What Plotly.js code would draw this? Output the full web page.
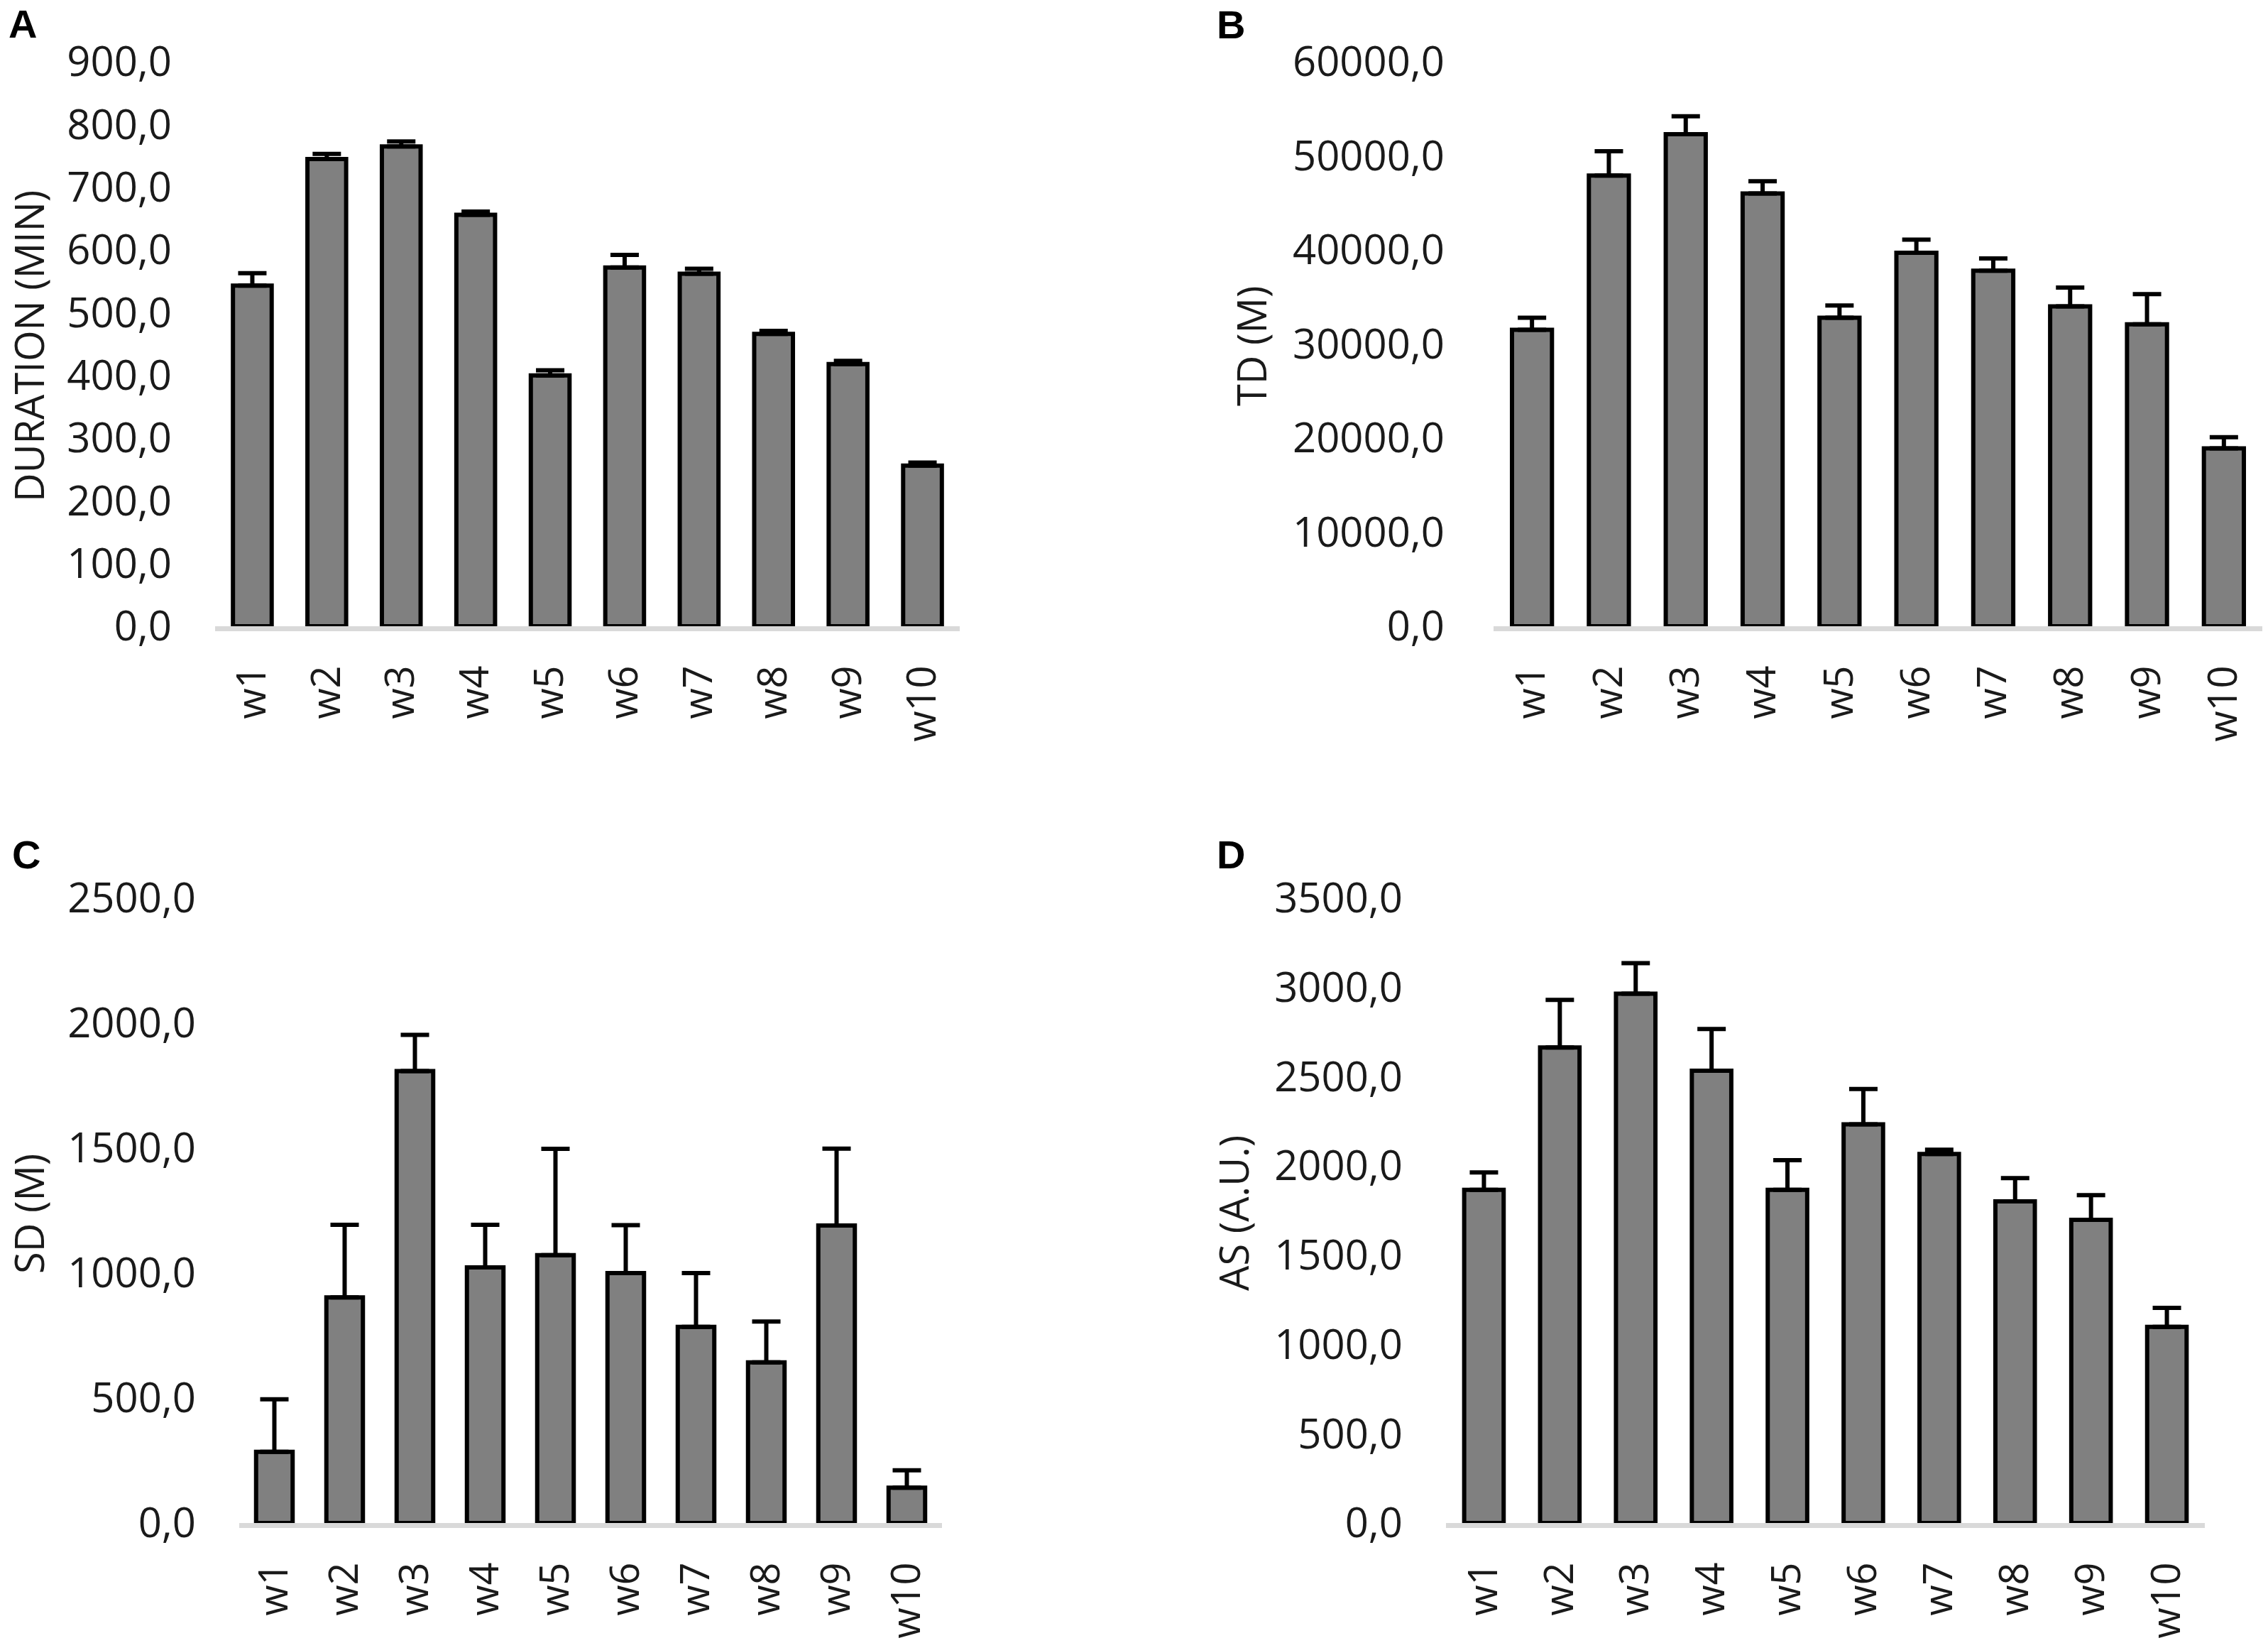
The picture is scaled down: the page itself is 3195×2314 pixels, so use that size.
<!DOCTYPE html>
<html>
<head>
<meta charset="utf-8">
<script src="https://cdn.plot.ly/plotly-3.0.1.min.js"></script>
<style>
  html, body { margin: 0; padding: 0; background: #fff; }
  #chart { width: 3195px; height: 2314px; }
</style>
</head>
<body>
<div id="chart"></div>
<script>
const weeks = ['w1', 'w2', 'w3', 'w4', 'w5', 'w6', 'w7', 'w8', 'w9', 'w10'];

// A: duration (min)
const durationMean = [543, 745, 765, 656, 400, 572, 562, 466, 418, 256];
const durationErr = [20, 8, 8, 5, 8, 20, 8, 5, 5, 5];

// B: total distance (m)
const tdMean = [31500, 47900, 52300, 46000, 32800, 39700, 37800, 34000, 32100, 18900];
const tdErr = [1300, 2600, 1900, 1300, 1300, 1400, 1300, 2000, 3200, 1200];

// C: sprint distance (m)
const sdMean = [285, 903, 1808, 1023, 1072, 1000, 785, 643, 1190, 141];
const sdErr = [210, 290, 145, 170, 425, 192, 215, 163, 308, 70];

// D: AS (A.U.)
const asMean = [1866, 2664, 2965, 2534, 1866, 2233, 2067, 1802, 1698, 1099];
const asErr = [98, 266, 171, 233, 166, 198, 24, 130, 139, 106];

const W = 3195, H = 2314;
const px = v => v / W;
const py = v => 1 - v / H;

function barTrace(y, err, xa, ya) {
  return {
    type: 'bar',
    x: weeks,
    y: y,
    xaxis: xa,
    yaxis: ya,
    marker: { color: '#808080', line: { color: '#000000', width: 6 } },
    error_y: {
      type: 'data',
      symmetric: false,
      array: err,
      arrayminus: err.map(() => 0),
      color: '#000000',
      thickness: 6,
      width: 20
    },
    hoverinfo: 'x+y'
  };
}

const data = [
  barTrace(durationMean, durationErr, 'x', 'y'),
  barTrace(tdMean, tdErr, 'x2', 'y2'),
  barTrace(sdMean, sdErr, 'x3', 'y3'),
  barTrace(asMean, asErr, 'x4', 'y4')
];

const tickFont = { family: 'Open Sans, sans-serif', size: 58, color: '#1a1a1a' };
const xTickFont = { family: 'Open Sans, sans-serif', size: 56, color: '#1a1a1a' };

function xAxis(domain, anchor) {
  return {
    domain: domain,
    anchor: anchor,
    range: [-0.5, 9.5],
    showgrid: false,
    zeroline: false,
    showline: true,
    linecolor: '#d9d9d9',
    linewidth: 7,
    layer: 'below traces',
    ticks: '',
    tickangle: -90,
    ticklabelstandoff: 26,
    tickfont: xTickFont,
    fixedrange: true
  };
}

function yAxis(domain, anchor, max, step, standoff) {
  return {
    domain: domain,
    anchor: anchor,
    range: [0, max],
    dtick: step,
    tick0: 0,
    tickformat: '.1f',
    showgrid: false,
    zeroline: false,
    showline: false,
    ticks: '',
    ticklabelstandoff: standoff,
    tickfont: tickFont,
    fixedrange: true
  };
}

const topRow = [py(882), py(87)];
const bottomRow = [py(2145), py(1265)];

const titleFont = { family: 'Open Sans, sans-serif', size: 56, color: '#1a1a1a' };
const letterFont = { family: 'Liberation Sans, Arial, sans-serif', size: 56, color: '#000000' };

function yTitle(text, x, y) {
  return {
    text: text, xref: 'paper', yref: 'paper', x: px(x), y: py(y),
    xanchor: 'center', yanchor: 'middle', textangle: -90,
    showarrow: false, font: titleFont
  };
}

function letter(text, x, y) {
  return {
    text: '<b>' + text + '</b>', xref: 'paper', yref: 'paper', x: px(x), y: py(y),
    xanchor: 'left', yanchor: 'top', showarrow: false, font: letterFont
  };
}

const layout = {
  width: W,
  height: H,
  margin: { l: 0, r: 0, t: 0, b: 0 },
  paper_bgcolor: '#ffffff',
  plot_bgcolor: '#ffffff',
  showlegend: false,
  separators: ',.',
  bargap: 0.48,
  xaxis: xAxis([px(303), px(1352)], 'y'),
  yaxis: yAxis(topRow, 'x', 900, 100, 60),
  xaxis2: xAxis([px(2104), px(3187)], 'y2'),
  yaxis2: yAxis(topRow, 'x2', 60000, 10000, 68),
  xaxis3: xAxis([px(337), px(1327)], 'y3'),
  yaxis3: yAxis(bottomRow, 'x3', 2500, 500, 60),
  xaxis4: xAxis([px(2037), px(3106)], 'y4'),
  yaxis4: yAxis(bottomRow, 'x4', 3500, 500, 60),
  annotations: [
    yTitle('DURATION (MIN)', 40, 488),
    yTitle('TD (M)', 1762, 488),
    yTitle('SD (M)', 40, 1710),
    yTitle('AS (A.U.)', 1737, 1709),
    letter('A', 10, 0),
    letter('B', 1712, 1),
    letter('C', 15, 1170),
    letter('D', 1712, 1170)
  ]
};

Plotly.newPlot('chart', data, layout, { displayModeBar: false, staticPlot: true });
</script>
</body>
</html>
